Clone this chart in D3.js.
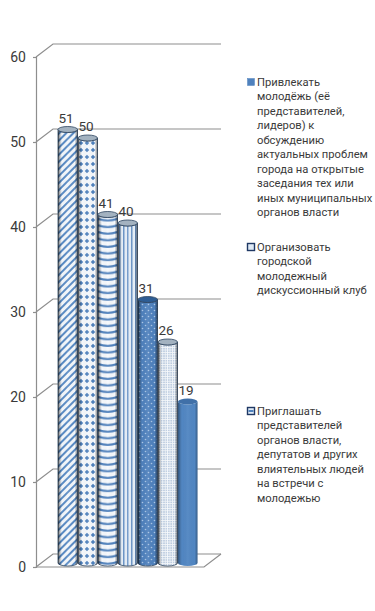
<!DOCTYPE html>
<html>
<head>
<meta charset="utf-8">
<style>
html, body { margin: 0; padding: 0; background: #fff; }
svg { display: block; }
text { font-family: Roboto, "Open Sans", sans-serif; fill: #3a3a3a; }
</style>
<script src="https://cdn.jsdelivr.net/npm/d3@7"></script>
</head>
<body>
<svg id="chart" width="375" height="611"></svg>
<script>
var categories = ['a', 'b', 'c', 'd', 'e', 'f', 'g'];
var values = [51, 50, 41, 40, 31, 26, 19];
var tick_values = [0, 10, 20, 30, 40, 50, 60];
var fills = ['p_diag', 'p_grid', 'p_hstripe', 'p_vstripe', 'p_dots', 'p_fine', 'p_solid'];
var legend_1 = ['Привлекать', 'молодёжь (её', 'представителей,', 'лидеров) к', 'обсуждению', 'актуальных проблем', 'города на открытые', 'заседания тех или', 'иных муниципальных', 'органов власти'];
var legend_2 = ['Организовать', 'городской', 'молодежный', 'дискуссионный клуб'];
var legend_3 = ['Приглашать', 'представителей', 'органов власти,', 'депутатов и других', 'влиятельных людей', 'на встречи с', 'молодежью'];

var blue = '#4f81bd';
var line_grey = '#8e8e8e';
var depth_x = 17, depth_y = 13; // wall offset of the fake 3d box
var bar_dx = 0, bar_dy = -4;    // bars stand a little behind the front edge
var bar_ry = 3;

var svg = d3.select('#chart');
var defs = svg.append('defs');

var y = d3.scaleLinear().domain([0, 60]).range([567, 57]);
var x = d3.scaleBand().domain(categories).range([58, 198]).padding(0);

// slight softening, the reference is a blurry bitmap
defs.append('filter').attr('id', 'soft')
    .append('feGaussianBlur').attr('stdDeviation', 0.35);

// patterns
function pattern(id, w, h, bg, transform) {
    var p = defs.append('pattern').attr('id', id)
        .attr('patternUnits', 'userSpaceOnUse')
        .attr('width', w).attr('height', h);
    if (transform) p.attr('patternTransform', transform);
    p.append('rect').attr('width', w).attr('height', h).attr('fill', bg);
    return p;
}
pattern('p_diag', 5, 5, '#f4f8fc', 'rotate(-45)')
    .append('rect').attr('width', 5).attr('height', 2).attr('fill', '#5a8cc6');
pattern('p_grid', 6, 7, '#f6f9fd').call(function (p) {
    p.append('path').attr('d', 'M3 0.8L5.2 3L3 5.2L0.8 3Z').attr('fill', blue);
});
// stripes bend with the cylinder front
pattern('p_hstripe', 19.5, 6.6, '#f6f9fd', 'translate(' + x('c') + ',0)').call(function (p) {
    [-6.6, 0, 6.6].forEach(function (o) {
        p.append('path')
            .attr('d', 'M0 ' + (1 + o) + 'Q9.75 ' + (4.4 + o) + ' 19.5 ' + (1 + o))
            .attr('fill', 'none').attr('stroke', blue).attr('stroke-width', 2.3);
    });
});
pattern('p_vstripe', 4, 7, '#e6eff8', 'translate(' + x('d') + ',0)')
    .append('rect').attr('x', 1.2).attr('width', 1.2).attr('height', 7).attr('fill', blue);
pattern('p_dots', 6, 6, blue).call(function (p) {
    p.append('circle').attr('cx', 1.5).attr('cy', 1.5).attr('r', 0.8).attr('fill', '#a9c6e6');
    p.append('circle').attr('cx', 4.5).attr('cy', 4.5).attr('r', 0.8).attr('fill', '#a9c6e6');
});
pattern('p_fine', 2.4, 2.4, '#f6f9fc')
    .append('circle').attr('cx', 0.8).attr('cy', 0.8).attr('r', 0.55).attr('fill', '#6089bb');
pattern('p_solid', 4, 4, '#5186c2');

// cylinder shading
var shade = defs.append('linearGradient').attr('id', 'shade');
[[0, '#000', 0.6], [0.1, '#000', 0.25], [0.2, '#000', 0], [0.5, '#fff', 0.08], [0.85, '#000', 0], [1, '#000', 0.5]].forEach(function (s) {
    shade.append('stop').attr('offset', s[0]).attr('stop-color', s[1]).attr('stop-opacity', s[2]);
});

// back wall and floor
var walls = svg.append('g').attr('fill', 'none').attr('stroke', line_grey).attr('stroke-width', 1.2);
var x_front = 36, x_back = x_front + depth_x, x_right = 221;
walls.selectAll('.grid').data(tick_values).join('path')
    .attr('class', 'grid')
    .attr('d', function (d) {
        return 'M' + x_front + ' ' + y(d) + 'L' + x_back + ' ' + (y(d) - depth_y) + 'L' + x_right + ' ' + (y(d) - depth_y);
    });
walls.append('path')
    .attr('d', 'M' + x_front + ' ' + y(0) + 'L' + (x_right - depth_x) + ' ' + y(0) + 'L' + x_right + ' ' + (y(0) - depth_y));

// axis
var axis = svg.append('g')
    .attr('transform', 'translate(' + x_front + ',0)')
    .call(d3.axisLeft(y).tickValues(tick_values).tickSize(3).tickPadding(7));
axis.selectAll('path, line').attr('stroke', line_grey).attr('stroke-width', 1.2);
axis.selectAll('text').style('font-size', '14px').attr('fill', '#3a3a3a');

// cylinders
function cylinder(d, i) {
    var l = x(categories[i]) + bar_dx, r = l + x.bandwidth() - 0.5;
    var top = y(d) + bar_dy, bottom = y(0) + bar_dy;
    var rx = (r - l) / 2;
    return 'M' + l + ' ' + top + 'L' + l + ' ' + bottom +
        'A' + rx + ' ' + bar_ry + ' 0 0 0 ' + r + ' ' + bottom +
        'L' + r + ' ' + top +
        'A' + rx + ' ' + bar_ry + ' 0 0 1 ' + l + ' ' + top + 'Z';
}
var bars = svg.append('g').attr('filter', 'url(#soft)');
var bar = bars.selectAll('g').data(values).join('g');
bar.append('path')
    .attr('d', cylinder)
    .attr('fill', function (d, i) { return 'url(#' + fills[i] + ')'; })
    .attr('stroke', function (d, i) { return i == 6 ? 'none' : '#2c4460'; })
    .attr('stroke-width', 0.8);
bar.append('path').attr('d', cylinder).attr('fill', 'url(#shade)').attr('opacity', function (d, i) { return i == 6 ? 0.6 : 1; });
bar.append('ellipse')
    .attr('cx', function (d, i) { return x(categories[i]) + bar_dx + (x.bandwidth() - 0.5) / 2; })
    .attr('cy', function (d) { return y(d) + bar_dy; })
    .attr('rx', (x.bandwidth() - 0.5) / 2)
    .attr('ry', bar_ry)
    .attr('fill', function (d, i) { return i == 4 ? '#2f5d94' : (i == 6 ? '#3f70a8' : '#a3b2c0'); })
    .attr('stroke', function (d, i) { return i == 6 ? 'none' : '#2c4460'; })
    .attr('stroke-width', 0.8);

// data labels
svg.append('g').selectAll('text').data(values).join('text')
    .attr('x', function (d, i) { return x(categories[i]) + x.bandwidth() / 2 - 2; })
    .attr('y', function (d) { return y(d) + bar_dy - 7; })
    .attr('text-anchor', 'middle')
    .style('font-size', '13.5px')
    .text(function (d) { return d; });

// legend
function legendBlock(lines, cy, kind) {
    var g = svg.append('g');
    g.append('rect').attr('x', 247.5).attr('y', cy - 3.5).attr('width', 7).attr('height', 7)
        .attr('fill', kind == 0 ? blue : '#dfeaf6')
        .attr('stroke', kind == 0 ? blue : '#1f3864')
        .attr('stroke-width', kind == 0 ? 0.5 : 1.4);
    if (kind == 2) {
        g.append('rect').attr('x', 248.5).attr('y', cy - 1).attr('width', 5).attr('height', 2).attr('fill', blue);
    }
    g.selectAll('text').data(lines).join('text')
        .attr('x', 257)
        .attr('y', function (d, i) { return cy + 4 + i * 14.45; })
        .style('font-size', '11.2px')
        .text(function (d) { return d; });
}
legendBlock(legend_1, 82, 0);
legendBlock(legend_2, 247, 1);
legendBlock(legend_3, 411, 2);
</script>
</body>
</html>
